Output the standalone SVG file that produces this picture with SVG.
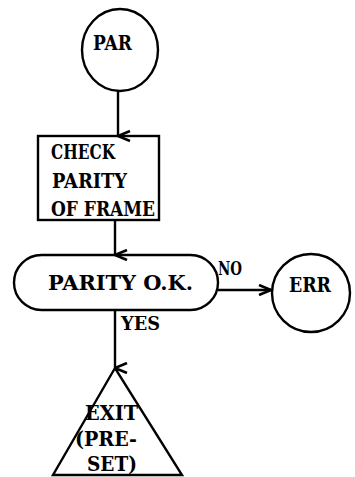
<svg xmlns="http://www.w3.org/2000/svg" width="355" height="477" viewBox="0 0 355 477">
<style>
.s{fill:none;stroke:#000;stroke-width:2.4}
.t{font-family:"DejaVu Serif","Liberation Serif",serif;font-weight:bold;font-size:20px;fill:#000}
.sm{font-size:18px}
.c{stroke:#000;stroke-width:2.4;fill:none}
</style>
<defs>
<marker id="ah" viewBox="0 0 12 14" refX="6" refY="13" markerWidth="12" markerHeight="14" markerUnits="userSpaceOnUse" orient="auto">
<path d="M1,1 L6,13 L11,1" fill="none" stroke="#000" stroke-width="2.6"/>
</marker>
<marker id="ahr" viewBox="0 0 14 12" refX="13" refY="6" markerWidth="14" markerHeight="12" markerUnits="userSpaceOnUse" orient="0">
<path d="M1,1 L13,6 L1,11" fill="none" stroke="#000" stroke-width="2.6"/>
</marker>
</defs>
<rect width="355" height="477" fill="#fff"/>
<g id="connectors">
<line class="c" x1="118" y1="91" x2="118" y2="136" marker-end="url(#ah)"/>
<line class="c" x1="115" y1="220" x2="115" y2="255" marker-end="url(#ah)"/>
<line class="c" x1="218" y1="290" x2="271" y2="290" marker-end="url(#ahr)"/>
<line class="c" x1="115" y1="310" x2="115" y2="368" marker-end="url(#ah)"/>
<text class="t sm" x="218" y="275" textLength="24" lengthAdjust="spacingAndGlyphs">NO</text>
<text class="t sm" x="121" y="330" textLength="39" lengthAdjust="spacingAndGlyphs">YES</text>
</g>
<g id="par">
<ellipse class="s" cx="120" cy="50" rx="38" ry="41"/>
<text class="t" x="93" y="50" textLength="39" lengthAdjust="spacingAndGlyphs">PAR</text>
</g>
<g id="check">
<rect class="s" x="38" y="136" width="121" height="84"/>
<text class="t" x="51" y="159" textLength="64" lengthAdjust="spacingAndGlyphs">CHECK</text>
<text class="t" x="52" y="188" textLength="75" lengthAdjust="spacingAndGlyphs">PARITY</text>
<text class="t" x="51" y="216" textLength="104" lengthAdjust="spacingAndGlyphs">OF FRAME</text>
</g>
<g id="parity-ok">
<rect class="s" x="14" y="255" width="204" height="55" rx="27.5" ry="27.5"/>
<text class="t" x="48" y="290" textLength="145" lengthAdjust="spacingAndGlyphs">PARITY O.K.</text>
</g>
<g id="err">
<circle class="s" cx="311" cy="293" r="39"/>
<text class="t" x="289" y="292" textLength="42" lengthAdjust="spacingAndGlyphs">ERR</text>
</g>
<g id="exit">
<polygon class="s" points="115,368 53,475 182,475"/>
<text class="t" x="85" y="420" textLength="53" lengthAdjust="spacingAndGlyphs">EXIT</text>
<text class="t" x="75" y="446" textLength="62" lengthAdjust="spacingAndGlyphs">(PRE-</text>
<text class="t" x="87" y="471" textLength="50" lengthAdjust="spacingAndGlyphs">SET)</text>
</g>
</svg>
